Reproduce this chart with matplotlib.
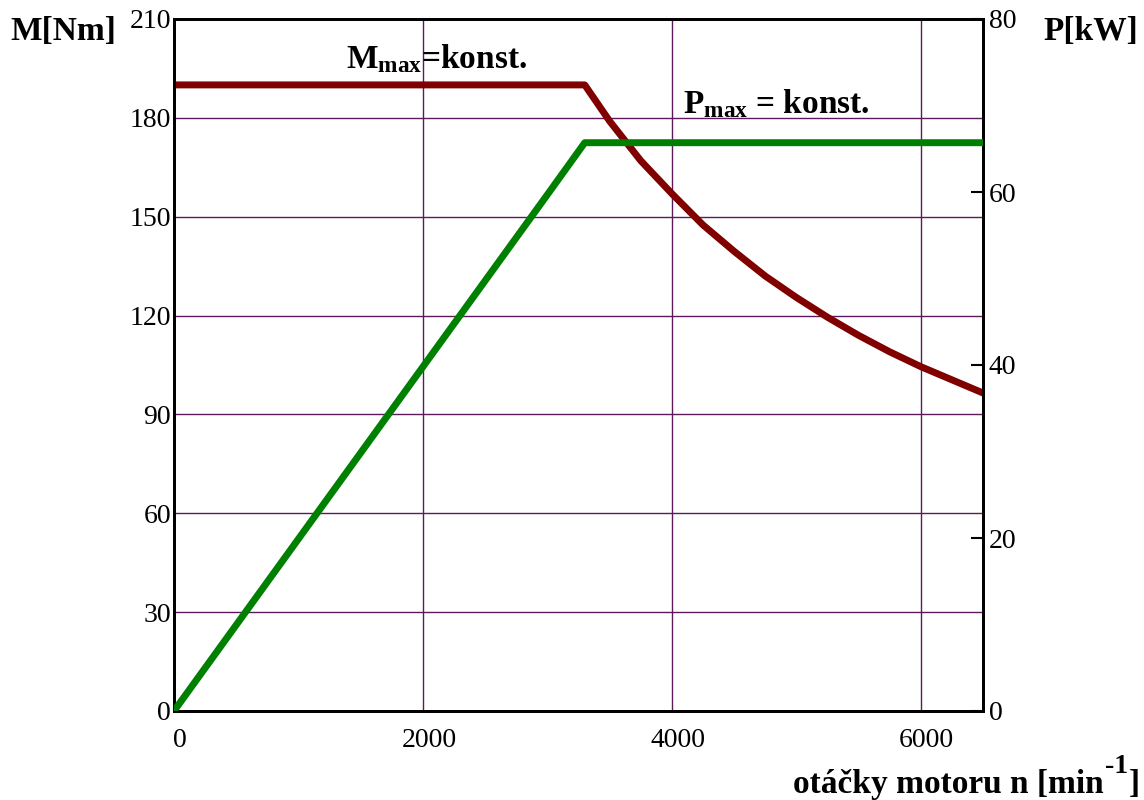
import matplotlib
matplotlib.use("Agg")
import matplotlib.pyplot as plt
import matplotlib.transforms as mtransforms

# ---- data ----
n_torque = [0, 3300, 3400, 3500, 3750, 4000, 4250, 4500, 4750, 5000,
            5250, 5500, 5750, 6000, 6250, 6500]
torque_Nm = [190, 190, 184.5, 179, 167, 157, 147.5, 139.5, 132, 125.5,
             119.5, 114, 109, 104.5, 100.5, 96.5]
n_power = [0, 1000, 2000, 3000, 3300, 6500]
power_kW = [0, 19.9, 39.8, 59.7, 65.7, 65.7]

x_ticks = [0, 2000, 4000, 6000]
m_ticks = [0, 30, 60, 90, 120, 150, 180, 210]
p_ticks = [0, 20, 40, 60, 80]

plt.rcParams['font.family'] = ['Liberation Serif', 'DejaVu Serif']
plt.rcParams['mathtext.fontset'] = 'custom'
plt.rcParams['mathtext.rm'] = 'Liberation Serif'
plt.rcParams['mathtext.bf'] = 'Liberation Serif:bold'
plt.rcParams['mathtext.it'] = 'Liberation Serif:italic'

W, H = 1144, 800
fig = plt.figure(figsize=(W / 100, H / 100), dpi=100)
ax = fig.add_axes([0.1521, 0.11125, 0.7072, 0.865])
ax2 = ax.twinx()

grid_col = '#5c1a5c'
ax.set_xlim(0, 6500)
ax.set_ylim(0, 210)
ax2.set_ylim(0, 80)

ax.set_xticks(x_ticks)
ax.set_yticks(m_ticks)
ax.grid(True, color=grid_col, linewidth=1.0)
ax.set_axisbelow(True)

ax.plot(n_torque, torque_Nm, color='#800000', linewidth=5.0, solid_capstyle='round', zorder=3)
ax2.plot(n_power, power_kW, color='#008000', linewidth=5.0, solid_capstyle='round', zorder=3)

for a in (ax, ax2):
    for s in a.spines.values():
        s.set_linewidth(2.0)
        s.set_color('black')

ax.tick_params(axis='both', length=0, labelsize=20)
ax.tick_params(axis='y', pad=2)
ax.tick_params(axis='x', pad=12)
ax2.set_yticks(p_ticks)
ax2.tick_params(axis='y', direction='in', length=8.6, width=1.5, pad=4, labelsize=20)

# shift x tick labels slightly to the right
offset = mtransforms.ScaledTranslation(6 / 100, 0, fig.dpi_scale_trans)
for lbl in ax.get_xticklabels():
    lbl.set_transform(lbl.get_transform() + offset)

# axis titles
fig.text(10 / W, 1 - 31 / H, 'M[Nm]', fontsize=24, fontweight='bold',
         ha='left', va='center')
fig.text(1043 / W, 1 - 31 / H, 'P[kW]', fontsize=24, fontweight='bold',
         ha='left', va='center')

# x axis title built from pieces (large superscript like the reference)
renderer = fig.canvas.get_renderer()
t3 = fig.text(1140 / W, 1 - 793 / H, ']', fontsize=24, fontweight='bold',
              ha='right', va='baseline')
x3 = t3.get_window_extent(renderer).x0
t2 = fig.text((x3 - 1) / W, 1 - 773 / H, '-1', fontsize=20, fontweight='bold',
              ha='right', va='baseline')
x2 = t2.get_window_extent(renderer).x0
fig.text((x2 - 1) / W, 1 - 793 / H, 'otáčky motoru n [min', fontsize=24,
         fontweight='bold', ha='right', va='baseline')

# annotations
fig.text(346 / W, 1 - 68 / H, r'$\mathbf{M_{max}}$=konst.', fontsize=24,
         fontweight='bold', ha='left', va='baseline')
fig.text(683 / W, 1 - 113 / H, r'$\mathbf{P_{max}}$ = konst.', fontsize=24,
         fontweight='bold', ha='left', va='baseline')

fig.savefig('out.png', dpi=100)
